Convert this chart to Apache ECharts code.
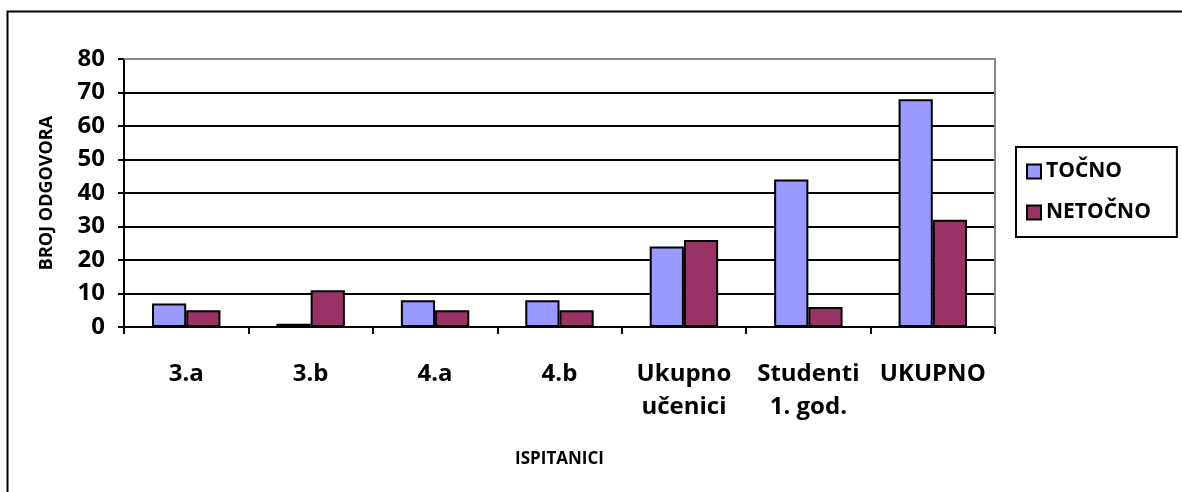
<!DOCTYPE html>
<html><head><meta charset="utf-8">
<script src="https://cdn.jsdelivr.net/npm/echarts@6/dist/echarts.min.js"></script>
<style>html,body{margin:0;padding:0;background:#fff}#c{width:1182px;height:492px}</style>
</head><body><div id="c"></div>
<script>
const categories = ['3.a', '3.b', '4.a', '4.b', 'Ukupno\nučenici', 'Studenti\n1. god.', 'UKUPNO'];
const tocno = [7, 1, 8, 8, 24, 44, 68];
const netocno = [5, 11, 5, 5, 26, 6, 32];
const seriesNames = ['TOČNO', 'NETOČNO'];
const yTicks = [0, 10, 20, 30, 40, 50, 60, 70, 80];

const F = '"Open Sans", sans-serif';
const chart = echarts.init(document.getElementById('c'), null, {renderer: 'canvas'});
chart.setOption({
  animation: false,
  backgroundColor: '#fff',
  graphic: [{
    type: 'rect', shape: {x: 7.5, y: 11.5, width: 1200, height: 500},
    style: {fill: 'none', stroke: '#000', lineWidth: 2}, z: 100
  }, {
    type: 'polyline', shape: {points: [[124, 59], [995, 59], [995, 327]]},
    style: {stroke: '#888', lineWidth: 2, fill: 'none'}, z: 5
  }],
  grid: {left: 124, top: 59, right: 187, bottom: 165, containLabel: false},
  legend: {
    orient: 'vertical', left: 1016, top: 147,
    padding: [14, 26, 14, 10], itemGap: 20,
    borderColor: '#000', borderWidth: 2,
    itemWidth: 14, itemHeight: 14, icon: 'rect',
    textStyle: {fontFamily: F, fontWeight: 'bold', fontSize: 21, color: '#000', padding: [0, 0, 0, 0]},
    data: seriesNames
  },
  xAxis: {
    type: 'category', data: categories,
    name: 'ISPITANICI', nameLocation: 'middle', nameGap: 124,
    nameTextStyle: {fontFamily: F, fontWeight: 'bold', fontSize: 17, color: '#000'},
    axisLine: {lineStyle: {color: '#000', width: 2}},
    axisTick: {show: true, length: 7, lineStyle: {color: '#000', width: 2}},
    axisLabel: {fontFamily: F, fontWeight: 'bold', fontSize: 24, color: '#000', margin: 31, lineHeight: 33, interval: 0}
  },
  yAxis: {
    type: 'value', min: 0, max: 80, interval: 10,
    name: 'BROJ ODGOVORA', nameLocation: 'middle', nameGap: 68, nameRotate: 90,
    nameTextStyle: {fontFamily: F, fontWeight: 'bold', fontSize: 18, color: '#000'},
    axisLine: {show: true, lineStyle: {color: '#000', width: 2}},
    axisTick: {show: true, length: 6, lineStyle: {color: '#000', width: 2}},
    axisLabel: {fontFamily: F, fontWeight: 'bold', fontSize: 24, color: '#000', margin: 19,
      formatter: v => yTicks.includes(v) ? String(v) : ''},
    splitLine: {show: true, lineStyle: {color: ['#000','#000','#000','#000','#000','#000','#000','#000','#888'], width: 2}}
  },
  series: [{
    name: seriesNames[0], type: 'bar', data: tocno,
    barGap: '0%', barCategoryGap: '45%',
    itemStyle: {color: '#9999FF', borderColor: '#000', borderWidth: 2}
  }, {
    name: seriesNames[1], type: 'bar', data: netocno,
    barGap: '0%', barCategoryGap: '45%',
    itemStyle: {color: '#993366', borderColor: '#000', borderWidth: 2}
  }]
});
</script></body></html>
